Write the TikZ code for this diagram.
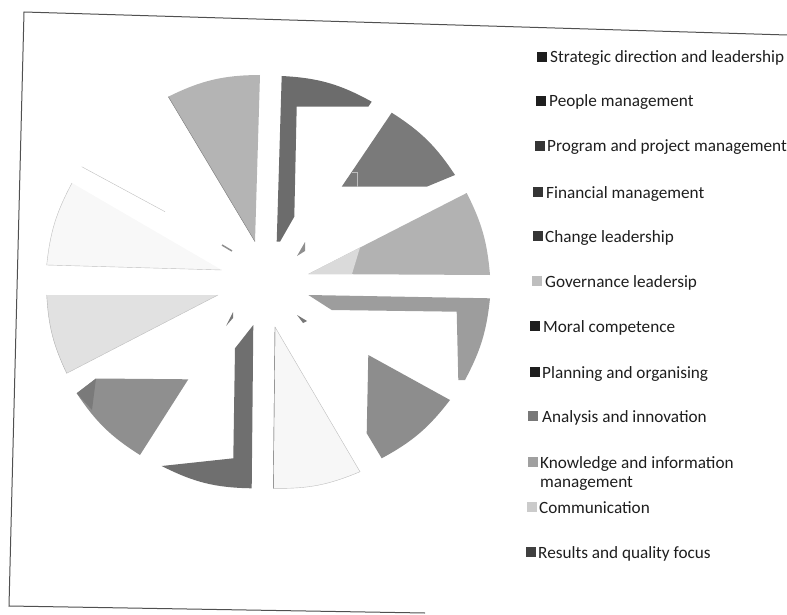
\documentclass[tikz,border=0pt]{standalone}
\usepackage{fontspec}
\setmainfont{Carlito}
\definecolor{strategic}{RGB}{108,108,108}
\definecolor{people}{RGB}{122,122,122}
\definecolor{program}{RGB}{178,178,178}
\definecolor{programwash}{RGB}{218,218,218}
\definecolor{financial}{RGB}{157,157,157}
\definecolor{change}{RGB}{141,141,141}
\definecolor{governance}{RGB}{247,247,247}
\definecolor{moral}{RGB}{111,111,111}
\definecolor{planning}{RGB}{143,143,143}
\definecolor{planningdark}{RGB}{122,122,122}
\definecolor{analysis}{RGB}{225,225,225}
\definecolor{knowledge}{RGB}{248,248,248}
\definecolor{results}{RGB}{180,180,180}
\definecolor{edgegrey}{RGB}{190,190,190}
\definecolor{darkedge}{RGB}{120,120,120}
\definecolor{framegrey}{RGB}{80,80,80}
\definecolor{ink}{RGB}{30,30,30}
\begin{document}
\begin{tikzpicture}[x=1pt,y=-1pt,
  legbox/.style={minimum width=10pt,minimum height=10pt,inner sep=0pt},
  legtext/.style={anchor=base west,inner sep=0pt,text=ink,align=left,font=\fontsize{17.2}{19}\selectfont}]
\useasboundingbox (0,0) rectangle (787,615);
\draw [framegrey,line width=1pt] (787,35) -- (24,12) -- (9,606) -- (425,613);
\fill [strategic] (281.7,76) to[bend left=13] (371.7,101.7) -- (368.3,106.7) -- (296.7,106.7) -- (294.3,216.7) -- (280,241.7) -- (276.7,241.7) -- cycle;
\fill [people] (391.7,112.7) to[bend left=12] (455,175) -- (426.7,186.7) -- (341.7,186.7) -- cycle;
\draw [edgegrey] (351.7,171.7) -- (356.7,171.7) -- (356.7,186.7);
\fill [program] (308.3,274) -- (466.7,193) to[bend left=11] (490,275) -- cycle;
\fill [programwash] (308.3,274) -- (360,247.5) -- (352,274) -- cycle;
\fill [financial] (308.3,295) -- (490,298.3) to[bend left=11] (465,380) -- (458.3,380) -- (456.7,311.7) -- (331.7,310) -- cycle;
\fill [change] (368.3,355) -- (450,400) to[bend left=12] (381.7,458.3) -- (366.7,433.3) -- cycle;
\filldraw [fill=governance,draw=edgegrey] (275,327) -- (360,471.7) to[bend left=12] (273.3,488.3) -- cycle;
\draw [darkedge] (275,327) -- (273.3,488.3);
\fill [moral] (253.3,325) -- (251.7,488.3) to[bend left=13] (161.7,466) -- (233.3,458.3) -- (235,348.3) -- cycle;
\fill [planning] (96,378.5) -- (188.3,379.3) -- (140,455) to[bend left=12] (76.7,393.3) -- cycle;
\fill [planningdark] (76.7,393.3) -- (96,378.5) -- (92,410) -- cycle;
\fill [analysis] (46.7,295) -- (218,295) -- (66.7,373.3) to[bend left=11] (46.7,295);
\draw [edgegrey] (218,295) -- (66.7,373.3);
\draw [darkedge!60] (66.7,373.3) to[bend left=11] (46.7,295);
\fill [knowledge] (46.7,265) to[bend left=11] (72,183) -- (221.7,270) -- cycle;
\draw [edgegrey] (72,183) to[bend right=11] (46.7,265) -- (221.7,270);
\draw [edgegrey] (81.7,166.7) -- (165,211.7);
\fill [results] (168.3,96.7) to[bend left=13] (260,75) -- (255,241.7) -- cycle;
\draw [darkedge] (168.3,96.7) -- (255,241.7);
\fill [planning] (305,242) -- (305,251) -- (297,256) -- cycle;
\fill [darkedge] (297,315) -- (307,321) -- (303,323) -- cycle;
\fill [darkedge] (233,312) -- (233,318) -- (226,326) -- cycle;
\draw [planning,line width=1.5pt] (222,245) -- (232,251);
\node [legbox,fill=ink] (m1) at (542,57) {};
\node [legtext] (t1) at (550,63) {Strategic direction and leadership};
\node [legbox,fill=ink] (m2) at (540.5,101) {};
\node [legtext] (t2) at (549,107) {People management};
\node [legbox,fill=ink!90] (m3) at (539.5,146) {};
\node [legtext] (t3) at (547,152) {Program and project management};
\node [legbox,fill=ink!90] (m4) at (538,192) {};
\node [legtext] (t4) at (546,198) {Financial management};
\node [legbox,fill=ink!90] (m5) at (538,236) {};
\node [legtext] (t5) at (545,242) {Change leadership};
\node [legbox,fill=edgegrey] (m6) at (537,281) {};
\node [legtext] (t6) at (545,287) {Governance leadersip};
\node [legbox,fill=ink] (m7) at (535,326) {};
\node [legtext] (t7) at (543,332) {Moral competence};
\node [legbox,fill=ink] (m8) at (534.5,372) {};
\node [legtext] (t8) at (542,378) {Planning and organising};
\node [legbox,fill=darkedge] (m9) at (532.5,416) {};
\node [legtext] (t9) at (542,422) {Analysis and innovation};
\node [legbox,fill=darkedge!70] (m10) at (532.5,462) {};
\node [legtext] (t10) at (540,487) {Knowledge and information\\management};
\node [legbox,fill=edgegrey!80] (m11) at (532,507) {};
\node [legtext] (t11) at (539,513) {Communication};
\node [legbox,fill=ink!85] (m12) at (530.5,552) {};
\node [legtext] (t12) at (538,558) {Results and quality focus};
\end{tikzpicture}
\end{document}
